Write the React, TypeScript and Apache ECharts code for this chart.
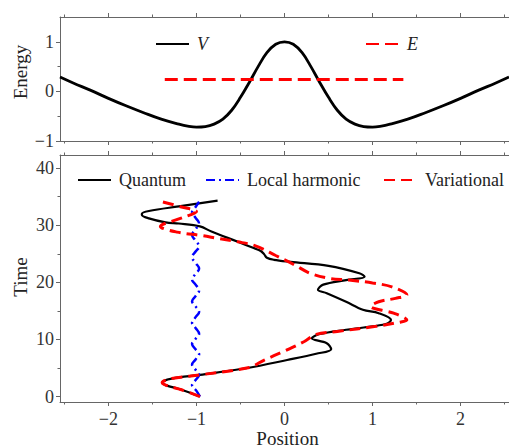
import React, { useEffect, useRef } from "react";
import * as echarts from "echarts";

// ---- Data ----
const potentialX = [-2.55, -2.4, -2.2, -2.0, -1.8, -1.6, -1.4, -1.2, -1.1, -1.0, -0.9, -0.8, -0.7, -0.6, -0.5, -0.4, -0.3, -0.2, -0.1, 0, 0.1, 0.2, 0.3, 0.4, 0.5, 0.6, 0.7, 0.8, 0.9, 1.0, 1.1, 1.2, 1.4, 1.6, 1.8, 2.0, 2.2, 2.4, 2.55];
const potentialV = [0.29, 0.17, 0.02, -0.14, -0.29, -0.43, -0.56, -0.66, -0.7, -0.72, -0.71, -0.66, -0.56, -0.38, -0.12, 0.18, 0.5, 0.78, 0.95, 1.0, 0.95, 0.78, 0.5, 0.18, -0.12, -0.38, -0.56, -0.66, -0.71, -0.72, -0.7, -0.66, -0.56, -0.43, -0.29, -0.14, 0.02, 0.17, 0.29];

const energyX = [-1.36, 1.35];
const energyE = [0.24, 0.24];

const quantumPos = [-0.96, -1.17, -1.35, -1.39, -1.28, -0.96, -0.42, 0.03, 0.36, 0.53, 0.48, 0.31, 0.4, 0.7, 0.9, 1.15, 1.21, 1.07, 0.89, 0.7, 0.48, 0.38, 0.44, 0.7, 0.91, 0.85, 0.5, 0.07, -0.12, -0.2, -0.23, -0.27, -0.35, -0.53, -0.83, -0.96, -1.2, -1.35, -1.54, -1.62, -1.62, -1.54, -1.2, -0.76];
const quantumTime = [0, 1.2, 2.0, 2.45, 3.15, 3.8, 5.0, 6.4, 7.5, 8.3, 9.35, 10.2, 10.95, 11.7, 12.1, 12.7, 13.4, 14.6, 15.2, 16.6, 18.1, 18.7, 19.6, 20.4, 21.0, 21.6, 22.9, 23.6, 23.95, 24.3, 24.9, 25.5, 26.0, 27.1, 28.9, 29.8, 30.3, 30.5, 31.2, 31.8, 32.0, 32.5, 33.3, 34.3];

const harmonicPos = [-0.96, -1.0, -1.05, -1.01, -0.97, -1.01, -1.05, -1.01, -0.97, -1.01, -1.05, -1.01, -0.97, -1.01, -1.05, -1.01, -0.97, -1.01, -1.05, -1.01, -0.97, -1.01, -1.05, -1.01, -0.97, -1.01, -1.05, -1.01, -0.97, -1.01, -1.05, -1.01, -0.97, -1.01, -1.05, -1.01, -0.97];
const harmonicTime = [0, 1.0, 2.0, 2.9, 3.8, 4.7, 5.6, 6.5, 7.4, 8.3, 9.2, 10.1, 11.0, 12.0, 12.9, 13.9, 14.8, 15.8, 16.7, 17.6, 18.6, 19.6, 20.5, 21.5, 22.4, 23.4, 24.4, 25.4, 26.3, 27.3, 28.3, 29.3, 30.3, 31.3, 32.3, 33.2, 34.1];

const variationalPos = [-0.96, -1.17, -1.35, -1.39, -1.28, -0.96, -0.4, -0.23, -0.01, 0.22, 0.36, 0.6, 1.04, 1.3, 1.39, 1.24, 0.98, 1.07, 1.26, 1.39, 1.22, 1.0, 0.73, 0.51, 0.29, 0.11, -0.1, -0.33, -0.53, -0.76, -0.94, -1.22, -1.41, -1.2, -1.04, -1.0, -1.17, -1.39];
const variationalTime = [0, 1.2, 2.0, 2.45, 3.15, 3.8, 5.1, 6.4, 7.9, 9.6, 10.9, 11.4, 12.3, 13.0, 13.4, 14.6, 15.8, 16.6, 17.2, 17.8, 19.2, 19.9, 20.4, 20.7, 21.6, 23.1, 24.7, 26.4, 27.1, 27.7, 28.2, 28.8, 29.8, 31.1, 32.0, 32.4, 33.2, 34.1];

const xMajor = [-2, -1, 0, 1, 2];
const xMinor = [-2.5, -1.5, -0.5, 0.5, 1.5, 2.5];
const energyMajor = [-1, 0, 1];
const energyMinor = [-0.5, 0.5];
const timeMajor = [0, 10, 20, 30, 40];
const timeMinor = [5, 15, 25, 35];

const zip = (a: number[], b: number[]) => a.map((v, i) => [v, b[i]]);

const FONT = '"Liberation Serif", "Times New Roman", serif';
const AX = "#666";
const TXT = "#333";
const X_MIN = -2.55;
const X_MAX = 2.55;

const fmt = (v: number) => String(v).replace("-", "\u2212");

function xAxis(gridIndex: number, position: string, ticks: number[], len: number, line: boolean, labels: boolean) {
  return {
    type: "value",
    gridIndex,
    position,
    min: X_MIN,
    max: X_MAX,
    axisLine: { show: line, onZero: false, lineStyle: { color: AX, width: 1 } },
    axisTick: { show: true, customValues: ticks, length: len, lineStyle: { color: AX, width: 1 } },
    axisLabel: labels
      ? { show: true, customValues: ticks, formatter: fmt, fontFamily: FONT, fontSize: 18, color: TXT, margin: 8 }
      : { show: false },
    splitLine: { show: false },
  };
}

function yAxis(gridIndex: number, min: number, max: number, ticks: number[], len: number, line: boolean, labels: boolean) {
  return {
    type: "value",
    gridIndex,
    position: "left",
    min,
    max,
    axisLine: { show: line, onZero: false, lineStyle: { color: AX, width: 1 } },
    axisTick: { show: true, customValues: ticks, length: len, lineStyle: { color: AX, width: 1 } },
    axisLabel: labels
      ? { show: true, customValues: ticks, formatter: fmt, fontFamily: FONT, fontSize: 18, color: TXT, margin: 6 }
      : { show: false },
    splitLine: { show: false },
  };
}

const legendBase = {
  itemWidth: 33,
  itemHeight: 14,
  padding: 0,
  selectedMode: false,
  itemStyle: { opacity: 0 },
  textStyle: { fontFamily: FONT, fontSize: 18, color: "#222", padding: [0, 0, 0, 3] },
};

export default function App() {
  const ref = useRef<HTMLDivElement>(null);
  useEffect(() => {
    if (!ref.current) return;
    const chart = echarts.init(ref.current, undefined, { renderer: "svg" });
    const topGrid = { left: 60, top: 17, width: 455, height: 124 };
    const botGrid = { left: 60, top: 155, width: 455, height: 247 };
    chart.setOption({
      animation: false,
      backgroundColor: "#fff",
      grid: [topGrid, topGrid, botGrid, botGrid].map((g) => ({ ...g, containLabel: false })),
      xAxis: [
        xAxis(0, "bottom", xMajor, 4, true, false),
        xAxis(0, "top", xMajor, 4, true, false),
        xAxis(1, "bottom", xMinor, 2.5, false, false),
        xAxis(1, "top", xMinor, 2.5, false, false),
        xAxis(2, "bottom", xMajor, 4, true, true),
        xAxis(2, "top", xMajor, 4, true, false),
        xAxis(3, "bottom", xMinor, 2.5, false, false),
        xAxis(3, "top", xMinor, 2.5, false, false),
      ],
      yAxis: [
        yAxis(0, -1, 1.5, energyMajor, 4, true, true),
        yAxis(1, -1, 1.5, energyMinor, 2.5, false, false),
        yAxis(2, -0.95, 42.3, timeMajor, 4, true, true),
        yAxis(3, -0.95, 42.3, timeMinor, 2.5, false, false),
      ],
      legend: [
        { ...legendBase, data: ["V"], left: 155, top: 35, textStyle: { ...legendBase.textStyle, fontStyle: "italic" } },
        { ...legendBase, data: ["E"], left: 365, top: 35, textStyle: { ...legendBase.textStyle, fontStyle: "italic" } },
        { ...legendBase, data: ["Quantum"], left: 77, top: 171 },
        { ...legendBase, data: ["Local harmonic"], left: 205, top: 171 },
        { ...legendBase, data: ["Variational"], left: 383, top: 171 },
      ],
      series: [
        {
          name: "V",
          type: "line",
          xAxisIndex: 0,
          yAxisIndex: 0,
          data: zip(potentialX, potentialV),
          smooth: 0.4,
          symbol: "none",
          lineStyle: { color: "#000", width: 2.8 },
          itemStyle: { color: "#000" },
        },
        {
          name: "E",
          type: "line",
          xAxisIndex: 0,
          yAxisIndex: 0,
          data: zip(energyX, energyE),
          symbol: "none",
          lineStyle: { color: "#ff0000", width: 3, type: [13, 6] },
          itemStyle: { color: "#ff0000" },
        },
        {
          name: "Quantum",
          type: "line",
          xAxisIndex: 4,
          yAxisIndex: 2,
          data: zip(quantumPos, quantumTime),
          smooth: 0.35,
          symbol: "none",
          lineStyle: { color: "#000", width: 2.2 },
          itemStyle: { color: "#000" },
        },
        {
          name: "Local harmonic",
          type: "line",
          xAxisIndex: 4,
          yAxisIndex: 2,
          data: zip(harmonicPos, harmonicTime),
          smooth: 0.4,
          symbol: "none",
          lineStyle: { color: "#0000ff", width: 2.5, type: [9, 4, 2, 4] },
          itemStyle: { color: "#0000ff" },
        },
        {
          name: "Variational",
          type: "line",
          xAxisIndex: 4,
          yAxisIndex: 2,
          data: zip(variationalPos, variationalTime),
          smooth: 0.35,
          symbol: "none",
          lineStyle: { color: "#ff0000", width: 3, type: [11, 6] },
          itemStyle: { color: "#ff0000" },
        },
      ],
      graphic: [
        {
          type: "text",
          x: 20,
          y: 72,
          rotation: Math.PI / 2,
          style: { text: "Energy", font: `19px ${FONT}`, fill: "#222", textAlign: "center", textVerticalAlign: "middle" },
        },
        {
          type: "text",
          x: 20,
          y: 277,
          rotation: Math.PI / 2,
          style: { text: "Time", font: `19px ${FONT}`, fill: "#222", textAlign: "center", textVerticalAlign: "middle" },
        },
        {
          type: "text",
          x: 287.5,
          y: 438.5,
          style: { text: "Position", font: `19px ${FONT}`, fill: "#222", textAlign: "center", textVerticalAlign: "middle" },
        },
      ],
    });
    return () => chart.dispose();
  }, []);
  return <div ref={ref} style={{ position: "fixed", left: 0, top: 0, width: 509, height: 448 }} />;
}
